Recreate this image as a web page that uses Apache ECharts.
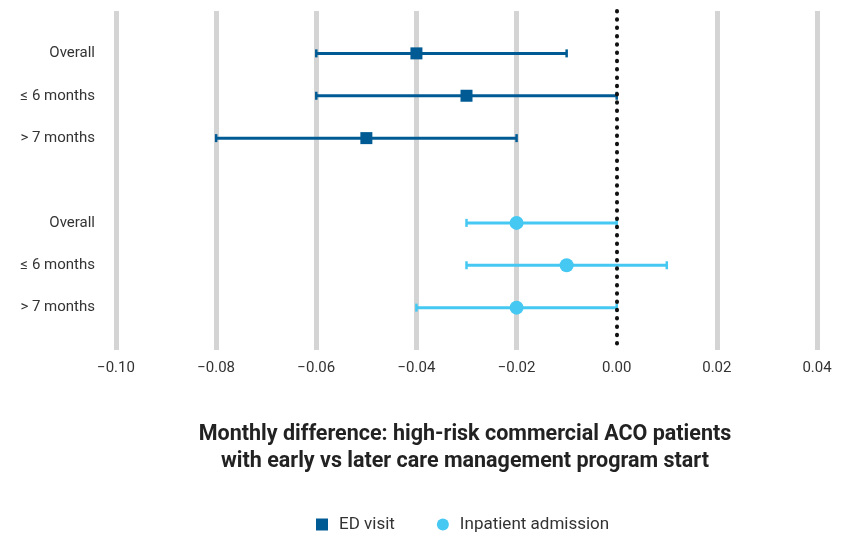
<!DOCTYPE html>
<html>
<head>
<meta charset="utf-8">
<script src="https://cdn.jsdelivr.net/npm/echarts@6/dist/echarts.min.js"></script>
<style>html,body{margin:0;padding:0;background:#fff}#c{width:843px;height:533px}</style>
</head>
<body>
<div id="c"></div>
<script>
const rowLabels = ['Overall', '≤ 6 months', '> 7 months', '', 'Overall', '≤ 6 months', '> 7 months'];
const xTicks = [-0.10, -0.08, -0.06, -0.04, -0.02, 0.00, 0.02, 0.04];
// ED visit: rows 1-3
const edRows = [1, 2, 3];
const edEst = [-0.04, -0.03, -0.05];
const edLow = [-0.06, -0.06, -0.08];
const edHigh = [-0.01, 0.00, -0.02];
// Inpatient admission: rows 5-7
const ipRows = [5, 6, 7];
const ipEst = [-0.02, -0.01, -0.02];
const ipLow = [-0.03, -0.03, -0.04];
const ipHigh = [0.00, 0.01, 0.00];

const FONT = 'Roboto';
const dark = '#005b94';
const light = '#45c8f2';
const grey = '#d4d4d4';

function errSeries(name, rows, low, high, color) {
  return {
    name: name + ' CI',
    type: 'custom',
    silent: true,
    z: 3,
    data: rows.map((r, i) => [low[i], high[i], r]),
    renderItem: function (params, api) {
      const y = api.value(2);
      const a = api.coord([api.value(0), y]);
      const b = api.coord([api.value(1), y]);
      const h = 4;
      const st = { stroke: color, lineWidth: 3 };
      return {
        type: 'group',
        children: [
          { type: 'line', shape: { x1: a[0], y1: a[1], x2: b[0], y2: b[1] }, style: st },
          { type: 'line', shape: { x1: a[0], y1: a[1] - h, x2: a[0], y2: a[1] + h }, style: { stroke: color, lineWidth: 2.5 } },
          { type: 'line', shape: { x1: b[0], y1: b[1] - h, x2: b[0], y2: b[1] + h }, style: { stroke: color, lineWidth: 2.5 } }
        ]
      };
    }
  };
}

const chart = echarts.init(document.getElementById('c'));
chart.setOption({
  animation: false,
  textStyle: { fontFamily: FONT },
  grid: { left: 116, right: 26, top: 11, height: 339, containLabel: false },
  xAxis: {
    type: 'value', min: -0.10, max: 0.04, interval: 0.02,
    axisLine: { show: false }, axisTick: { show: false },
    splitLine: { show: true, lineStyle: {
      color: xTicks.map(t => Math.abs(t) < 1e-9 ? 'rgba(0,0,0,0)' : grey), width: 5 } },
    axisLabel: {
      color: '#333', fontSize: 15, margin: 11, fontFamily: FONT,
      formatter: v => {
        const t = xTicks.find(x => Math.abs(x - v) < 1e-9);
        if (t === undefined) return '';
        return (t < 0 ? '\u2212' : '') + Math.abs(t).toFixed(2);
      }
    }
  },
  yAxis: {
    type: 'value', min: 0, max: 8, interval: 1, inverse: true,
    axisLine: { show: false }, axisTick: { show: false }, splitLine: { show: false },
    axisLabel: {
      color: '#333', fontSize: 15, margin: 21, fontFamily: FONT,
      formatter: v => (v >= 1 && v <= 7) ? rowLabels[v - 1] : ''
    }
  },
  title: {
    text: 'Monthly difference: high-risk commercial ACO patients\nwith early vs later care management program start',
    left: 460, top: 416, textAlign: 'center',
    textStyle: { fontSize: 21.5, fontWeight: 'bold', color: '#222', lineHeight: 27, fontFamily: FONT }
  },
  legend: {
    top: 511, left: 311, itemGap: 42, itemWidth: 12, itemHeight: 12,
    textStyle: { fontSize: 17, color: '#333', fontFamily: FONT, padding: [0, 0, 0, 6] },
    data: [
      { name: 'ED visit', icon: 'rect' },
      { name: 'Inpatient admission', icon: 'circle' }
    ]
  },
  series: [
    errSeries('ED visit', edRows, edLow, edHigh, dark),
    errSeries('Inpatient admission', ipRows, ipLow, ipHigh, light),
    {
      name: 'ED visit', type: 'scatter', symbol: 'rect', symbolSize: 12, z: 5,
      itemStyle: { color: dark, opacity: 1 },
      data: edRows.map((r, i) => [edEst[i], r]),
      markLine: {
        silent: true, symbol: 'none', label: { show: false },
        lineStyle: { color: '#111', width: 4, type: [0.5, 7.8], cap: 'round', opacity: 1 },
        data: [[{ coord: [0, 0] }, { coord: [0, 8] }]]
      }
    },
    {
      name: 'Inpatient admission', type: 'scatter', symbol: 'circle', symbolSize: 14, z: 5,
      itemStyle: { color: light, opacity: 1 },
      data: ipRows.map((r, i) => [ipEst[i], r])
    }
  ]
});
</script>
</body>
</html>
